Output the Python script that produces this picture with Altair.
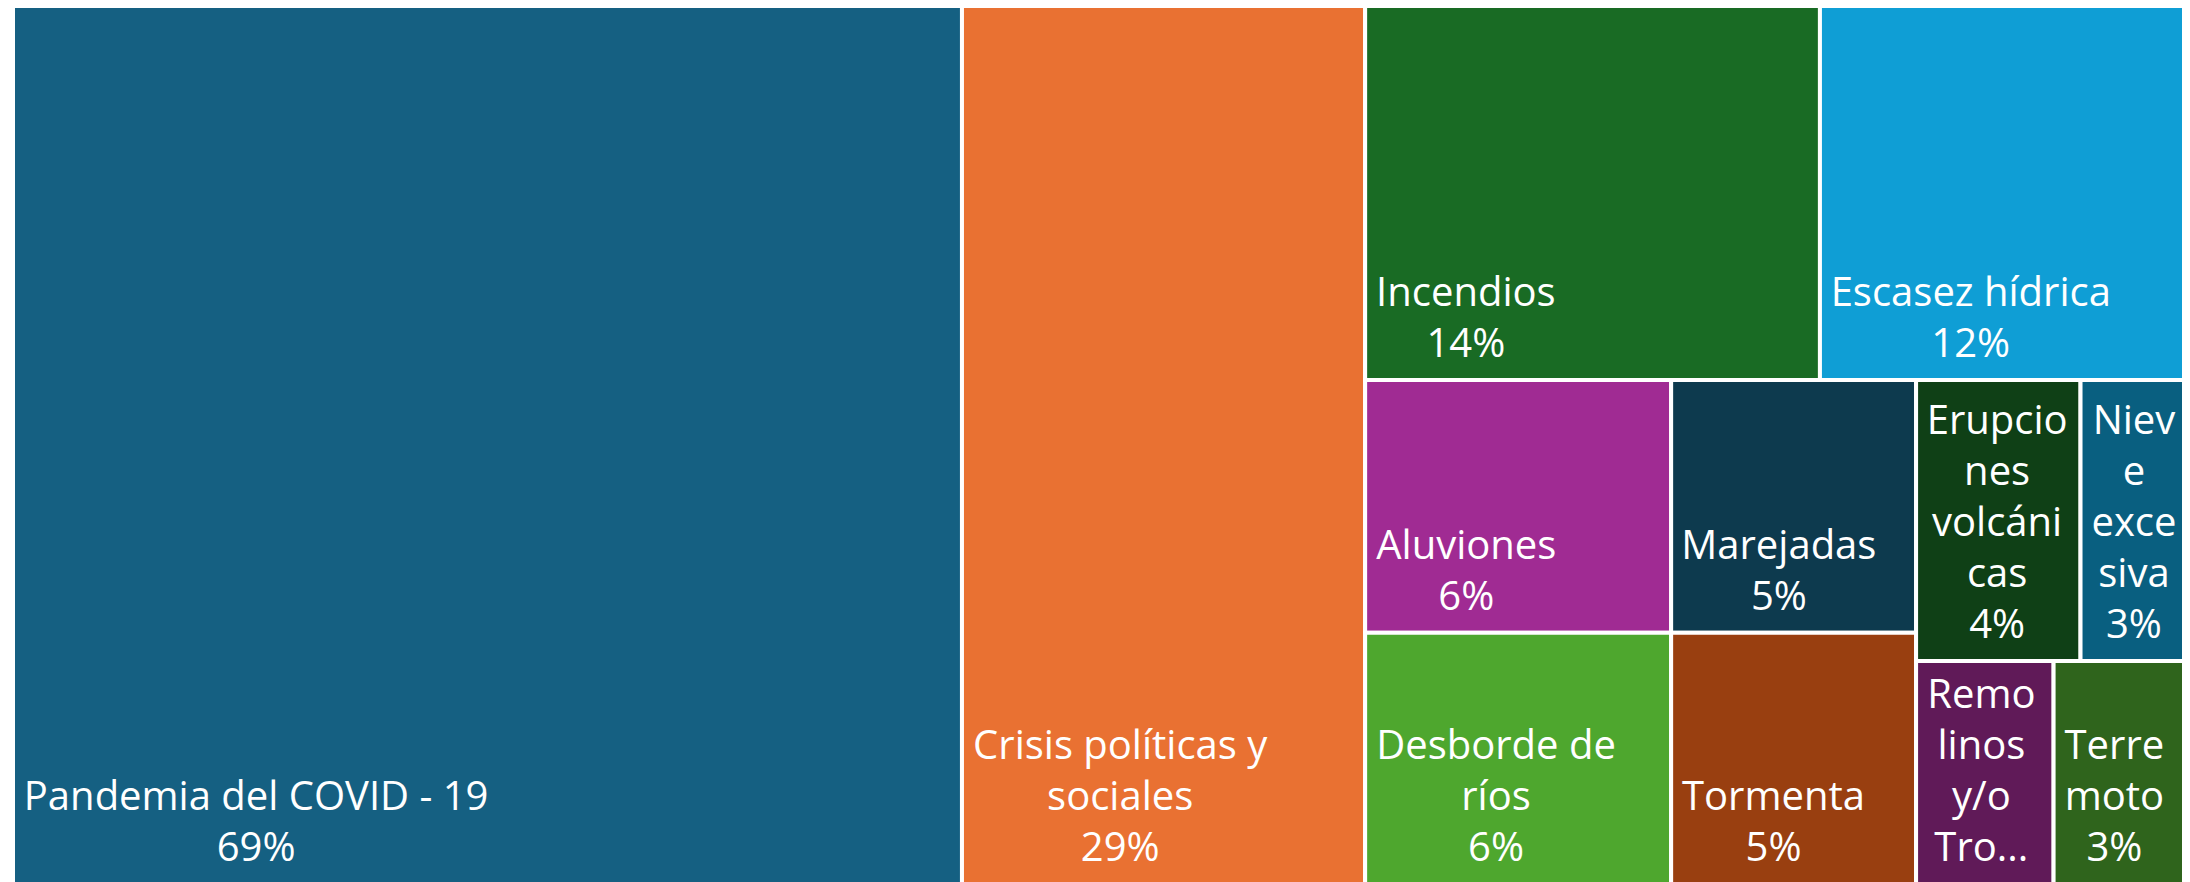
import altair as alt
import pandas as pd

# ---- data ----
categories = ["Pandemia del COVID - 19", "Crisis políticas y sociales", "Incendios",
              "Escasez hídrica", "Aluviones", "Desborde de ríos", "Marejadas", "Tormenta",
              "Erupciones volcánicas", "Nieve excesiva", "Remolinos y/o Tro...", "Terremoto"]
values = [69.2, 29.4, 14.17, 11.53, 6.41, 6.37, 5.13, 5.1, 3.83, 2.55, 2.54, 2.52]
label_lines = [
    ["Pandemia del COVID - 19"],
    ["Crisis políticas y", "sociales"],
    ["Incendios"],
    ["Escasez hídrica"],
    ["Aluviones"],
    ["Desborde de", "ríos"],
    ["Marejadas"],
    ["Tormenta"],
    ["Erupcio", "nes", "volcáni", "cas"],
    ["Niev", "e", "exce", "siva"],
    ["Remo", "linos", "y/o", "Tro..."],
    ["Terre", "moto"],
]
show_value = [True] * 10 + [False, True]
colors = ["#156082", "#E97132", "#196B24", "#0F9ED5", "#A02B93", "#4EA72E",
          "#0D3A4E", "#993F10", "#0F4016", "#095F80", "#601A58", "#2F641C"]

# ---- treemap layout (slice and dice, Excel-like arrangement) ----
tree = ("h", [0, 1, ("v", [("h", [2, 3]),
                           ("h", [("v", [4, 5]), ("v", [6, 7]),
                                  ("v", [("h", [8, 9]), ("h", [10, 11])])])])])


def total(node):
    if isinstance(node, int):
        return values[node]
    return sum(total(c) for c in node[1])


rects = {}


def layout(node, x0, y0, x1, y1):
    if isinstance(node, int):
        rects[node] = (x0, y0, x1, y1)
        return
    orient, kids = node
    t = total(node)
    pos = x0 if orient == "h" else y0
    for k in kids:
        frac = total(k) / t
        if orient == "h":
            nxt = pos + frac * (x1 - x0)
            layout(k, pos, y0, nxt, y1)
        else:
            nxt = pos + frac * (y1 - y0)
            layout(k, x0, pos, x1, nxt)
        pos = nxt


layout(tree, 0.0, 0.0, 1.0, 1.0)

# approximate Open Sans advance widths (units per 2048 em)
CW = {' ': 532, '%': 1696, '-': 659, '.': 545, '/': 752,
      'a': 1139, 'b': 1255, 'c': 975, 'd': 1255, 'e': 1149, 'f': 694, 'g': 1122, 'h': 1257,
      'i': 518, 'í': 518, 'j': 518, 'k': 1075, 'l': 518, 'm': 1905, 'n': 1257, 'o': 1237,
      'p': 1255, 'q': 1255, 'r': 836, 's': 977, 't': 723, 'u': 1257, 'v': 1026, 'w': 1593,
      'x': 1073, 'y': 1028, 'z': 977, 'á': 1139,
      'A': 1296, 'C': 1298, 'D': 1479, 'E': 1096, 'I': 561, 'M': 1751, 'N': 1518, 'O': 1599,
      'P': 1235, 'R': 1266, 'T': 1108, 'V': 1186}
for d in "0123456789":
    CW[d] = 1171

FONT_SIZE = 40
LINE_H = 51
FULL_W = 2177     # full treemap width in px (right edge slightly beyond the view)
LEFT_OFF = 5      # treemap starts 5px right of the view's left edge
VIEW_W = 2174
FULL_H = 880      # full treemap height in px (bottom slightly below the view)
TOP_OFF = 4       # treemap top lies 4px above the view
VIEW_H = 874
PAD = 11
BOTTOM_GAP = 23


def text_w(s):
    return sum(CW.get(ch, 1100) for ch in s) / 2048 * FONT_SIZE


rows = []
for i, cat in enumerate(categories):
    x0, y0, x1, y1 = rects[i]
    lines = list(label_lines[i])
    if show_value[i]:
        lines.append(f"{int(values[i] + 0.5)}%")
    bw = max(text_w(s) for s in lines)
    rows.append({
        "cat": cat, "value": values[i],
        "x0": x0, "x1": x1, "y0": y0, "y1": y1,
        "tx": x0 + (PAD + bw / 2) / FULL_W,
        "ty": y1 - ((len(lines) - 1) * LINE_H + BOTTOM_GAP) / FULL_H,
        "label": "\n".join(lines),
    })
df = pd.DataFrame(rows)

xs = alt.Scale(domain=[-LEFT_OFF / FULL_W, (VIEW_W - LEFT_OFF) / FULL_W], nice=False, zero=False)
ys = alt.Scale(domain=[TOP_OFF / FULL_H, (VIEW_H + TOP_OFF) / FULL_H], reverse=True,
               nice=False, zero=False)

base = alt.Chart(df)
boxes = base.mark_rect(stroke="white", strokeWidth=4, clip=True).encode(
    x=alt.X("x0:Q", scale=xs, axis=None),
    x2="x1:Q",
    y=alt.Y("y0:Q", scale=ys, axis=None),
    y2="y1:Q",
    color=alt.Color("cat:N", scale=alt.Scale(domain=categories, range=colors), legend=None),
)
texts = base.mark_text(align="center", baseline="alphabetic", font="Open Sans",
                       fontSize=FONT_SIZE, lineHeight=LINE_H, color="white",
                       lineBreak="\n").encode(
    x=alt.X("tx:Q", scale=xs, axis=None),
    y=alt.Y("ty:Q", scale=ys, axis=None),
    text="label:N",
)

chart = alt.layer(boxes, texts).properties(
    width=VIEW_W, height=VIEW_H,
    padding=0,
    autosize="none",
    background="white",
).configure_view(stroke=None)

chart.save("out.html", embed_options={"renderer": "svg", "actions": False})
